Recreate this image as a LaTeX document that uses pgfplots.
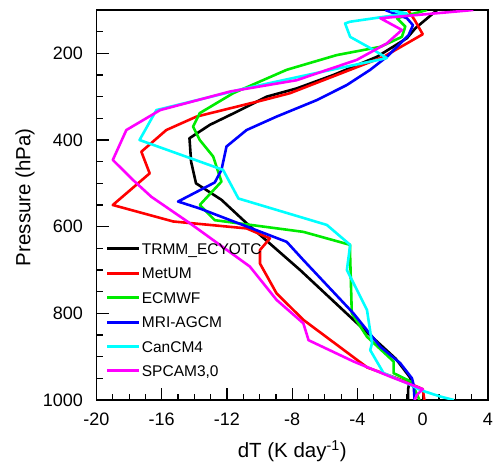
\documentclass[border=0pt]{standalone}
\usepackage{fontspec}
\setmainfont{Liberation Sans}
\usepackage{pgfplots}
\pgfplotsset{compat=1.18}
\definecolor{cBlack}{RGB}{0,0,0}
\definecolor{cRed}{RGB}{255,0,0}
\definecolor{cGreen}{RGB}{0,235,0}
\definecolor{cBlue}{RGB}{0,0,255}
\definecolor{cCyan}{RGB}{0,255,255}
\definecolor{cMagenta}{RGB}{255,0,255}
\begin{document}
\begin{tikzpicture}
\begin{axis}[
  scale only axis, width=391.5pt, height=390pt,
  xmin=-20, xmax=4, ymin=100, ymax=1000, y dir=reverse,
  xtick={-20,-16,...,4}, minor x tick num=3,
  ytick={200,400,...,1000}, minor ytick={150,200,...,950},
  tick align=inside, xtick pos=bottom, ytick pos=left,
  major tick length=12pt, minor tick length=6pt,
  axis line style={line width=1.2pt},
  every tick/.style={line width=1.2pt, black},
  /pgf/number format/assume math mode=true,
  /pgf/number format/1000 sep={},
  ticklabel style={font=\fontsize{18}{20}\selectfont},
  yticklabel style={inner sep=0pt, anchor=east, xshift=-13.5pt},
  xticklabel style={inner sep=0pt, anchor=north, yshift=-13pt},
  every axis x label/.style={at={(rel axis cs:0.5,0)}, anchor=base, yshift=-58pt, font=\fontsize{20.5}{22}\selectfont},
  every axis y label/.style={at={([xshift=-71.5pt]rel axis cs:0,0.52)}, anchor=center, rotate=90, font=\fontsize{20.5}{22}\selectfont},
  xlabel={dT (K day\textsuperscript{-1})},
  ylabel={Pressure (hPa)},
  legend style={at={(rel axis cs:0.0235,0.4044)}, anchor=north west, draw=none, fill=none,
    inner sep=0pt, row sep=11.4pt, font=\fontsize{15.5}{17}\selectfont,
    nodes={inner sep=1pt, text height=11pt, text depth=0pt}},
  legend cell align=left,
  legend image code/.code={\draw[line width=3pt] (0pt,0pt) -- (32pt,0pt);},
  every axis plot/.append style={line width=2.6pt, line join=round},
]
\addplot[cBlack] table {
x y
0.88 100
-0.45 142
-0.97 165
-2.81 208
-5.48 250
-7.73 281
-9.57 300
-11.41 335
-13.05 365
-14.3 396
-14.2 450
-13.9 500
-12.34 538
-10.8 592
-7.52 700
-4.25 815
-1.65 905
-0.76 949
-0.9 975
-0.9 1000
};
\addlegendentry{TRMM\_ECYOTC}
\addplot[cRed] table {
x y
-0.9 100
-0.5 123
0.0 156
-2.4 208
-5.27 250
-8.14 292
-9.78 308
-13.87 346
-15.72 377
-17.25 427
-16.74 477
-19.0 550
-15.3 588
-10.8 604
-9.37 627
-9.98 654
-9.98 685
-8.96 754
-7.32 815
-6.5 838
-3.4 925
-1.2 955
0.0 975
0.1 1000
};
\addlegendentry{MetUM}
\addplot[cGreen] table {
x y
0.26 100
-1.58 119
-1.07 138
-1.28 162
-2.6 185
-5.27 204
-8.34 238
-11.62 292
-13.67 338
-14.08 369
-13.67 400
-12.85 438
-12.34 496
-13.67 550
-12.75 585
-7.32 612
-4.45 642
-4.45 669
-4.35 800
-3.42 854
-1.79 911
-1.79 938
-0.7 958
-0.2 1000
};
\addlegendentry{ECMWF}
\addplot[cBlue] table {
x y
-2.3 100
-0.97 119
-0.6 135
-0.87 158
-2.2 208
-3.22 238
-4.65 273
-6.5 308
-8.96 346
-10.8 377
-12.03 415
-12.34 469
-12.75 498
-15.0 542
-13.67 558
-8.34 635
-7.32 677
-4.25 800
-2.6 877
-1.38 915
-0.66 950
-0.56 965
-0.5 1000
};
\addlegendentry{MRI-AGCM}
\addplot[cCyan] table {
x y
-2.0 100
-0.97 108
-4.45 127
-4.76 131
-4.45 162
-3.02 192
-2.2 211
-6.1 242
-10.9 281
-16.33 331
-17.36 400
-12.24 469
-11.3 535
-5.88 596
-4.45 642
-4.65 700
-3.42 792
-3.11 869
-3.22 885
-2.4 938
-0.97 961
-0.15 977
1.08 992
1.9 1000
};
\addlegendentry{CanCM4}
\addplot[cMagenta] table {
x y
3.1 100
-2.6 119
-1.28 146
-2.2 177
-4.04 215
-7.73 262
-11.8 288
-16.1 331
-18.17 377
-19.0 446
-17.77 492
-16.64 531
-14.28 592
-10.6 692
-8.96 769
-7.32 823
-7.0 862
-4.25 911
-2.0 946
0.0 975
-0.35 988
-0.5 1000
};
\addlegendentry{SPCAM3,0}
\end{axis}
\pgfresetboundingbox
\path[use as bounding box] ([xshift=-96.5pt,yshift=-66pt]current axis.south west) rectangle ([xshift=12pt,yshift=10pt]current axis.north east);
\end{tikzpicture}
\end{document}
